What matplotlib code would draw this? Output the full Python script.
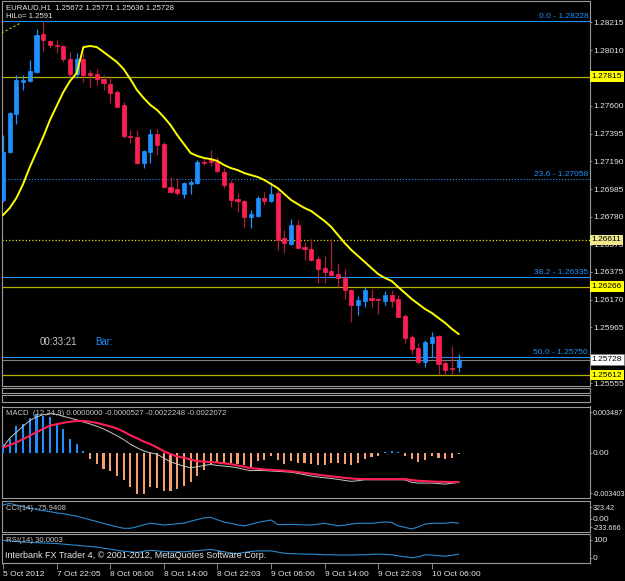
import matplotlib
matplotlib.use("Agg")
import matplotlib.pyplot as plt
from matplotlib.transforms import blended_transform_factory

plt.rcParams['font.family'] = ['Liberation Sans', 'DejaVu Sans']

# EURAUD H1 candles
opens = [1.26905, 1.27259, 1.27539, 1.27775, 1.27783, 1.27849, 1.28129, 1.28078, 1.28048, 1.28041,
         1.27945, 1.27834, 1.27945, 1.27842, 1.27834, 1.27797, 1.27761, 1.27701, 1.27606, 1.27377,
         1.27370, 1.27178, 1.27259, 1.27392, 1.27318, 1.27001, 1.26986, 1.26949, 1.27023, 1.27030,
         1.27185, 1.27200, 1.27185, 1.27111, 1.27030, 1.26912, 1.26898, 1.26780, 1.26787, 1.26920,
         1.26898, 1.26957, 1.26625, 1.26581, 1.26721, 1.26558, 1.26544, 1.26470, 1.26403, 1.26381,
         1.26359, 1.26330, 1.26241, 1.26131, 1.26160, 1.26182, 1.26175, 1.26160, 1.26204, 1.26175,
         1.26050, 1.25894, 1.25814, 1.25710, 1.25850, 1.25902, 1.25703, 1.25666, 1.25672]
highs = [1.27384, 1.27552, 1.27827, 1.27827, 1.27938, 1.28166, 1.28228, 1.28085, 1.28085, 1.28048,
         1.27997, 1.27989, 1.27989, 1.27864, 1.27871, 1.27827, 1.27812, 1.27716, 1.27628, 1.27421,
         1.27421, 1.27274, 1.27429, 1.27429, 1.27333, 1.27075, 1.27067, 1.27038, 1.27053, 1.27200,
         1.27222, 1.27274, 1.27222, 1.27141, 1.27053, 1.26957, 1.26905, 1.26831, 1.26935, 1.26964,
         1.27038, 1.26979, 1.26684, 1.26765, 1.26758, 1.26595, 1.26617, 1.26492, 1.26492, 1.26617,
         1.26440, 1.26396, 1.26249, 1.26197, 1.26263, 1.26249, 1.26182, 1.26234, 1.26241, 1.26204,
         1.26064, 1.25909, 1.25850, 1.25873, 1.25932, 1.25909, 1.25725, 1.25828, 1.25771]
lows = [1.26890, 1.27252, 1.27466, 1.27716, 1.27775, 1.27842, 1.28004, 1.28026, 1.27989, 1.27923,
        1.27812, 1.27805, 1.27775, 1.27738, 1.27753, 1.27716, 1.27620, 1.27591, 1.27362, 1.27325,
        1.27170, 1.27141, 1.27178, 1.27237, 1.26993, 1.26957, 1.26942, 1.26920, 1.26949, 1.27023,
        1.27163, 1.27156, 1.27104, 1.26993, 1.26853, 1.26817, 1.26706, 1.26699, 1.26780, 1.26868,
        1.26890, 1.26536, 1.26514, 1.26573, 1.26551, 1.26463, 1.26455, 1.26293, 1.26293, 1.26337,
        1.26263, 1.26175, 1.26005, 1.26057, 1.26116, 1.26116, 1.26064, 1.26131, 1.26116, 1.26042,
        1.25850, 1.25769, 1.25696, 1.25673, 1.25747, 1.25622, 1.25614, 1.25622, 1.25636]
closes = [1.27259, 1.27547, 1.27790, 1.27790, 1.27856, 1.28122, 1.28085, 1.28048, 1.28041, 1.27945,
          1.27834, 1.27945, 1.27827, 1.27827, 1.27797, 1.27768, 1.27694, 1.27591, 1.27377, 1.27370,
          1.27178, 1.27266, 1.27392, 1.27311, 1.27001, 1.26964, 1.26957, 1.27030, 1.27038, 1.27185,
          1.27178, 1.27185, 1.27119, 1.27016, 1.26905, 1.26898, 1.26780, 1.26802, 1.26920, 1.26898,
          1.26949, 1.26610, 1.26588, 1.26721, 1.26551, 1.26544, 1.26463, 1.26396, 1.26374, 1.26352,
          1.26330, 1.26241, 1.26131, 1.26168, 1.26241, 1.26168, 1.26168, 1.26204, 1.26160, 1.26042,
          1.25887, 1.25806, 1.25710, 1.25858, 1.25894, 1.25696, 1.25651, 1.25659, 1.25728]
hilo = [1.26794, 1.26846, 1.26920, 1.27023, 1.27148, 1.27259, 1.27370, 1.27495, 1.27598, 1.27701,
        1.27783, 1.27842, 1.28033, 1.28041, 1.28033, 1.27997, 1.27960, 1.27923, 1.27871, 1.27797,
        1.27716, 1.27657, 1.27606, 1.27569, 1.27517, 1.27458, 1.27384, 1.27318, 1.27252, 1.27230,
        1.27215, 1.27207, 1.27193, 1.27163, 1.27141, 1.27126, 1.27104, 1.27089, 1.27075, 1.27053,
        1.27023, 1.26993, 1.26949, 1.26905, 1.26875, 1.26846, 1.26824, 1.26787, 1.26750, 1.26706,
        1.26647, 1.26588, 1.26536, 1.26492, 1.26448, 1.26403, 1.26359, 1.26330, 1.26308, 1.26263,
        1.26219, 1.26175, 1.26138, 1.26101, 1.26072, 1.26035, 1.25998, 1.25954, 1.25917]

trend_x = [-0.2, 2.6]
trend_y = [1.28137, 1.28210]

price_ticks = [1.28215, 1.28010, 1.27805, 1.27600, 1.27395, 1.27190, 1.26985, 1.26780,
               1.26575, 1.26375, 1.26170, 1.25965, 1.25760, 1.25555]
# tick labels that sit fully under a price box in the terminal
hidden_ticks = [1.27805, 1.25760]
fib_names = ["0.0", "23.6", "38.2", "50.0"]
fib_prices = [1.28228, 1.27058, 1.26335, 1.25750]
fib_styles = ["-", ":", "-", "-"]
level_prices = [1.27815, 1.26611, 1.26266, 1.25612]
level_styles = ["-", ":", "-", "-"]
bid_price = 1.25728

macd_hist = [0.00064, 0.00107, 0.00203, 0.00217, 0.00260, 0.00293, 0.00280, 0.00268, 0.00209, 0.00178,
             0.00102, 0.00064, 0.00012, -0.00046, -0.00082, -0.00121, -0.00138, -0.00172, -0.00202, -0.00258,
             -0.00312, -0.00310, -0.00258, -0.00263, -0.00284, -0.00288, -0.00271, -0.00250, -0.00220, -0.00172,
             -0.00129, -0.00086, -0.00073, -0.00077, -0.00077, -0.00082, -0.00095, -0.00107, -0.00064, -0.00051,
             -0.00026, -0.00056, -0.00082, -0.00064, -0.00077, -0.00077, -0.00082, -0.00090, -0.00090, -0.00080,
             -0.00075, -0.00082, -0.00090, -0.00080, -0.00046, -0.00035, -0.00026, 0.00004, 0.00010, 0.00005,
             -0.00026, -0.00050, -0.00066, -0.00056, -0.00026, -0.00038, -0.00046, -0.00038, -0.0000527]
macd_main = [0.00042, 0.00110, 0.00155, 0.00200, 0.00243, 0.00270, 0.00287, 0.00295, 0.00290, 0.00275,
             0.00262, 0.00248, 0.00232, 0.00217, 0.00200, 0.00180, 0.00155, 0.00129, 0.00100, 0.00065,
             0.00038, 0.00014, 0.00000, -0.00011, -0.00040, -0.00068, -0.00085, -0.00101, -0.00113, -0.00105,
             -0.00095, -0.00088, -0.00095, -0.00100, -0.00105, -0.00113, -0.00125, -0.00134, -0.00133, -0.00134,
             -0.00137, -0.00140, -0.00143, -0.00146, -0.00155, -0.00165, -0.00175, -0.00182, -0.00188, -0.00193,
             -0.00200, -0.00208, -0.00215, -0.00210, -0.00203, -0.00203, -0.00203, -0.00203, -0.00203, -0.00203,
             -0.00204, -0.00222, -0.00228, -0.00228, -0.00228, -0.00232, -0.00236, -0.00229, -0.0022248]
macd_signal = [0.00040, 0.00059, 0.00078, 0.00104, 0.00129, 0.00155, 0.00180, 0.00205, 0.00215, 0.00226,
               0.00234, 0.00240, 0.00240, 0.00234, 0.00225, 0.00212, 0.00199, 0.00183, 0.00160, 0.00132,
               0.00110, 0.00085, 0.00065, 0.00040, 0.00012, -0.00010, -0.00027, -0.00037, -0.00050, -0.00063,
               -0.00066, -0.00069, -0.00073, -0.00079, -0.00085, -0.00095, -0.00105, -0.00115, -0.00120, -0.00125,
               -0.00128, -0.00131, -0.00134, -0.00139, -0.00145, -0.00151, -0.00158, -0.00165, -0.00171, -0.00177,
               -0.00182, -0.00189, -0.00193, -0.00197, -0.00198, -0.00198, -0.00198, -0.00198, -0.00198, -0.00198,
               -0.00198, -0.00205, -0.00211, -0.00213, -0.00216, -0.00218, -0.00219, -0.00220, -0.0022072]
cci = [251, 280, 250, 222, 195, 170, 150, 132, 110, 95,
       72, 50, 20, -15, -45, -80, -110, -140, -167, -167,
       -140, -105, -75, -90, -108, -98, -85, -75, -40, -10,
       20, 30, -15, -55, -77, -105, -125, -95, -62, -40,
       -18, -100, -102, -96, -100, -105, -108, -92, -78, -100,
       -122, -112, -90, -77, -77, -77, -65, -52, -60, -125,
       -150, -180, -140, -90, -77, -77, -75, -62, -75.9408]
rsi = [77, 75, 73, 71, 70, 69, 68, 67, 66, 64,
       62, 60, 58, 56, 54, 50, 47, 43, 40, 38,
       36, 40, 43, 41, 39, 38, 38, 38, 40, 42,
       44, 46, 42, 38, 34, 32, 36, 39, 41, 41,
       41, 37, 33, 32, 31, 30, 30, 29, 28, 28,
       27, 27, 27, 28, 28, 29, 30, 29, 28, 24,
       21, 18, 21, 28, 27, 25, 23, 26, 30.0003]

time_ticks = [0, 8, 16, 24, 32, 40, 48, 56, 64]
time_labels = ["5 Oct 2012", "7 Oct 22:05", "8 Oct 06:00", "8 Oct 14:00", "8 Oct 22:03",
               "9 Oct 06:00", "9 Oct 14:00", "9 Oct 22:03", "10 Oct 06:00"]

W, H = 625, 581
BG = "#000000"
FRAME = "#9a9a9a"
TXT = "#e6e6e6"
BLUE = "#1e90ff"
RED = "#ff1f55"
WICK_DN = "#a8203a"
OLIVE = "#b4b400"
FS = 6
FS_LEFT = 5.6

fig = plt.figure(figsize=(W / 100, H / 100), dpi=100, facecolor=BG)
x_left, x_right = 2, 590
xlim = (-0.15, (x_right - 3) / 6.7)


def panel(top, bottom):
    ax = fig.add_axes([x_left / W, 1 - bottom / H, (x_right - x_left) / W, (bottom - top) / H])
    ax.set_facecolor(BG)
    for s in ax.spines.values():
        s.set_color(FRAME)
        s.set_linewidth(0.8)
    ax.set_xlim(*xlim)
    ax.tick_params(axis="x", bottom=False, labelbottom=False)
    ax.yaxis.tick_right()
    ax.tick_params(axis="y", colors=FRAME, labelcolor=TXT, labelsize=FS, length=1.5, width=0.6, pad=0.6)
    return ax


def edge_labels(ax, h_px, lo, hi, top_txt, bot_txt, mid=None, small=False):
    span = hi - lo
    ticks = [hi - span * 6 / h_px, lo + span * 5 / h_px]
    labels = [top_txt, bot_txt]
    if mid is not None:
        ticks.append(mid[0])
        labels.append(mid[1])
    ax.set_ylim(lo, hi)
    ax.set_yticks(ticks)
    ax.set_yticklabels(labels)
    if small:
        for lab in ax.get_yticklabels()[:2]:
            lab.set_fontsize(5.2)


bars = list(range(len(opens)))

# ---- main price window
ax = panel(1, 385.5)
ax.set_ylim(1.25537, 1.28373)
ax.set_yticks(price_ticks)
ax.set_yticklabels(["" if p in hidden_ticks else f"{p:.5f}" for p in price_ticks])

for i in bars:
    up = closes[i] >= opens[i]
    ax.vlines(i, lows[i], highs[i], color=BLUE if up else WICK_DN, lw=0.9, zorder=3)
    ax.bar(i, abs(closes[i] - opens[i]), bottom=min(opens[i], closes[i]), width=0.6,
           color=BLUE if up else RED, edgecolor=BLUE if up else RED, lw=0.5, zorder=4)

ax.plot(bars, hilo, color="#ffff00", lw=1.4, zorder=5)
ax.plot(trend_x, trend_y, color="#c8c800", lw=0.8, ls=(0, (2, 2)), zorder=5)

blend = blended_transform_factory(ax.transAxes, ax.transData)
for name, p, ls in zip(fib_names, fib_prices, fib_styles):
    ax.axhline(p, color=BLUE, lw=0.8, ls=ls, zorder=2)
    ax.text(0.997, p + 0.00006, f"{name} - {p:.5f}", transform=blend, ha="right", va="bottom",
            color=BLUE, fontsize=FS, zorder=6)

for p, ls in zip(level_prices, level_styles):
    dotted = ls == ":"
    ax.axhline(p, color="#e8e000" if dotted else OLIVE, lw=0.9, ls=ls, zorder=2)
    ax.text(1.003, p, f"{p:.5f}", transform=blend, ha="left", va="center", color="#000000",
            fontsize=FS, zorder=10, clip_on=False,
            bbox=dict(boxstyle="square,pad=0.2", fc="#f0e68c" if dotted else "#ffff00", ec="none"))

ax.axhline(bid_price, color="#808080", lw=0.8, zorder=2)
ax.text(1.003, bid_price, f"{bid_price:.5f}", transform=blend, ha="left", va="center", color="#000000",
        fontsize=FS, zorder=10, clip_on=False,
        bbox=dict(boxstyle="square,pad=0.2", fc="#ffffff", ec="#808080", lw=0.5))

ax.text(4 / 588, 1 - 7 / 384.5, "EURAUD,H1  1.25672 1.25771 1.25636 1.25728", transform=ax.transAxes,
        color=TXT, fontsize=FS_LEFT, va="center", ha="left")
ax.text(4 / 588, 1 - 16 / 384.5, "HiLo= 1.2591", transform=ax.transAxes,
        color=TXT, fontsize=FS_LEFT, va="center", ha="left")
ax.text(38 / 588, 1 - 341 / 384.5, "00:33:21", transform=ax.transAxes,
        color="#c8c8c8", fontsize=7, va="center", ha="left")
ax.text(93 / 588, 1 - 341 / 384.5, "Bar:", transform=ax.transAxes,
        color=BLUE, fontsize=7, va="center", ha="left")

# ---- empty separator windows
for top, bottom in [(388, 392.5), (394.5, 402)]:
    e = panel(top, bottom)
    e.set_yticks([])

# ---- MACD window
am = panel(406.5, 498)
edge_labels(am, 91.5, -0.003403, 0.003487, "0.003487", "-0.003403", (0.0, "0.00"), small=True)
hist_colors = [BLUE if v >= 0 else "#f4a070" for v in macd_hist]
am.bar(bars, macd_hist, width=0.3, color=hist_colors, zorder=3)
am.plot(bars, macd_main, color="#c8c8c8", lw=0.7, zorder=4)
am.plot(bars, macd_signal, color=RED, lw=1.5, zorder=5)
am.text(4 / 588, 1 - 7 / 91.5, "MACD  (12,24,9) 0.0000000 -0.0000527 -0.0022248 -0.0022072",
        transform=am.transAxes, color="#c8c8c8", fontsize=FS_LEFT, va="center", ha="left", zorder=6)

# ---- CCI window
ac = panel(501, 532)
edge_labels(ac, 31, -233.666, 323.42, "323.42", "-233.666", (0.0, "0.00"), small=True)
ac.plot(bars, cci, color="#2a8ad0", lw=0.8)
ac.text(4 / 588, 1 - 8 / 31, "CCI(14) -75.9408", transform=ac.transAxes,
        color="#c8c8c8", fontsize=FS_LEFT, va="center", ha="left")

# ---- RSI window
ar = panel(533.5, 563)
edge_labels(ar, 29.5, 0, 100, "100", "0")
ar.plot(bars, rsi, color="#2a8ad0", lw=0.8)
ar.text(4 / 588, 1 - 7 / 29.5, "RSI(14) 30.0003", transform=ar.transAxes,
        color="#c8c8c8", fontsize=FS_LEFT, va="center", ha="left")
ar.text(3 / 588, 3 / 29.5, "Interbank FX Trader 4, \u00a9 2001-2012, MetaQuotes Software Corp.",
        transform=ar.transAxes, color=TXT, fontsize=6.5, va="bottom", ha="left")

# time axis under the last window
ar.set_xticks(time_ticks)
ar.set_xticklabels(time_labels)
ar.tick_params(axis="x", bottom=True, labelbottom=True, colors=FRAME, labelcolor=TXT,
               labelsize=FS, length=4, width=0.6, pad=2)
for lab in ar.get_xticklabels():
    lab.set_horizontalalignment("left")

fig.savefig("out.png", dpi=100, facecolor=BG)
